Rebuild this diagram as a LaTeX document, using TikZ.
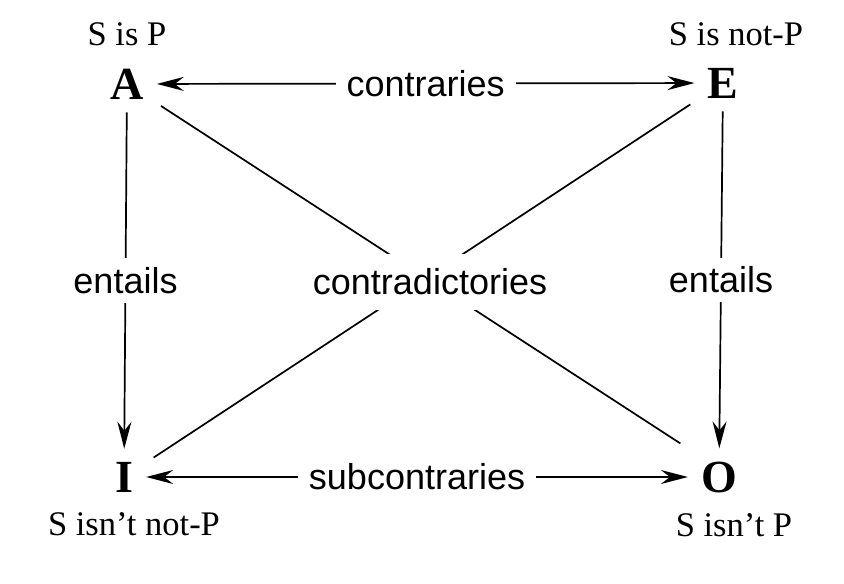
\documentclass[tikz,border=0pt]{standalone}
\usepackage{fontspec}
\setmainfont{Liberation Serif}
\setsansfont{Liberation Sans}
\usetikzlibrary{positioning, arrows.meta}

\begin{document}
\begin{tikzpicture}[
    x=1pt, y=-1pt,
    corner/.style={font=\bfseries\fontsize{46}{46}\selectfont, inner sep=13pt},
    form/.style={font=\fontsize{34.5}{34.5}\selectfont, inner sep=0pt},
    relation/.style={font=\sffamily\fontsize{36}{36}\selectfont, fill=white, inner xsep=11pt, inner ysep=9pt},
    tip/.style={line width=1.7pt, -{Stealth[length=27pt, width=14pt, inset=9pt]}},
    both/.style={line width=1.7pt, {Stealth[length=27pt, width=14pt, inset=9pt]}-{Stealth[length=27pt, width=14pt, inset=9pt]}},
    diag/.style={line width=1.7pt, shorten <=5pt, shorten >=9pt}
  ]
    \useasboundingbox (0,0) rectangle (844,584);

    % the four corners
    \node[corner] (A) at (127,84) {A};
    \node[corner] (E) at (723,83) {E};
    \node[corner] (I) at (124,477) {I};
    \node[corner] (O) at (719,477) {O};

    % what each corner says
    \node[form, above=10pt of A] (Atext) {S is P};
    \node[form, above=9pt of E, xshift=13pt] (Etext) {S is not-P};
    \node[form, below=7pt of I, xshift=10pt] (Itext) {S isn't not-P};
    \node[form, below=8pt of O, xshift=15pt] (Otext) {S isn't P};

    % the square
    \draw[both] (A) -- node[relation] {contraries} (E);
    \draw[both] (I) -- node[relation] {subcontraries} (O);
    \draw[tip] (A) -- node[relation] {entails} (I);
    \draw[tip] (E) -- node[relation] {entails} (O);
    \draw[diag] (A) -- (O.north west);
    \draw[diag] (E) -- (I);
    \node[relation, inner ysep=15pt, inner xsep=0pt] (contra) at (430,282) {contradictories};
\end{tikzpicture}
\end{document}
